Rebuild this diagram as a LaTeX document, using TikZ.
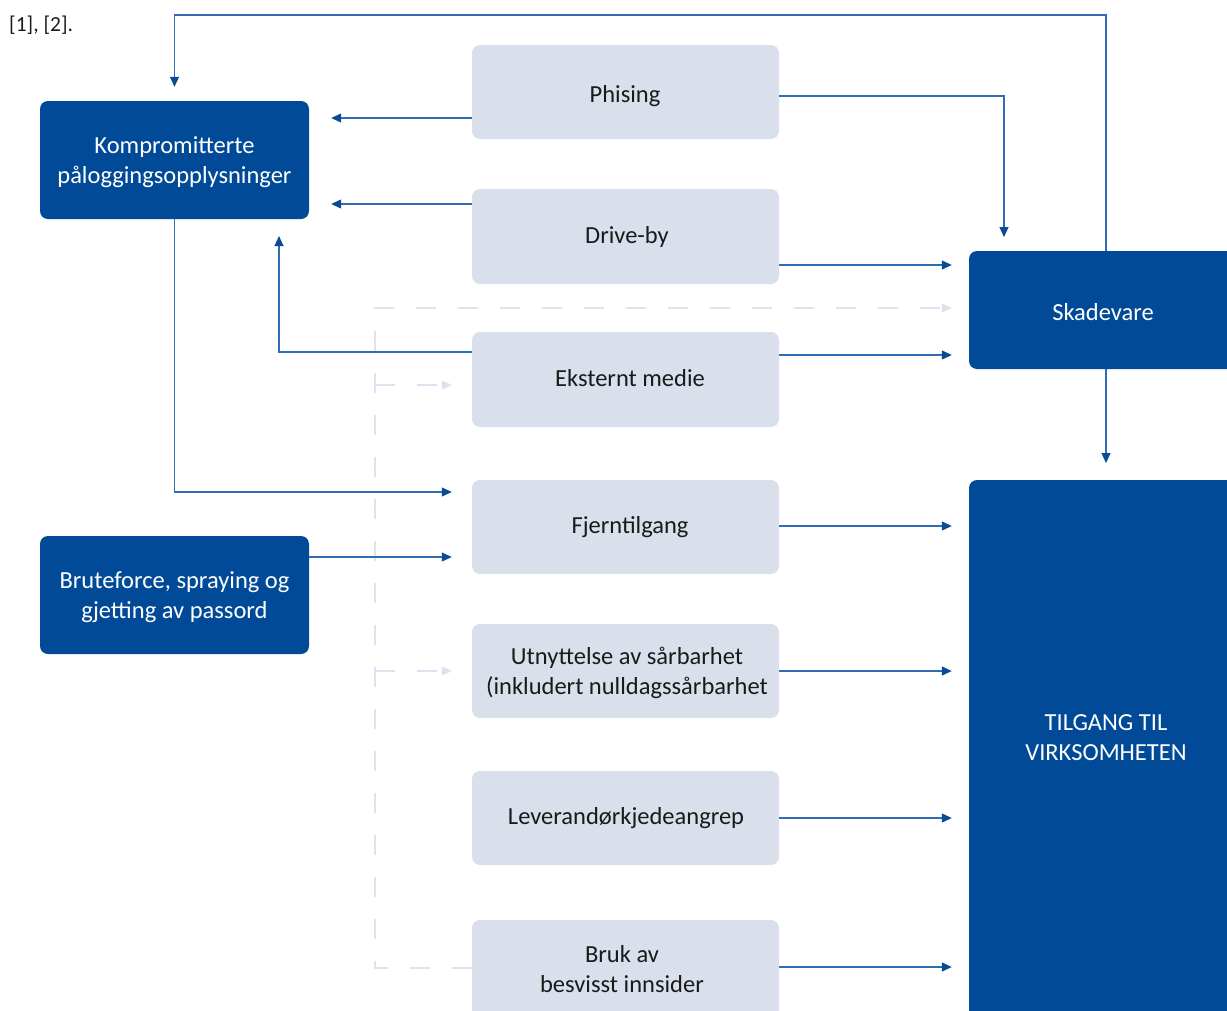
\documentclass[tikz,border=0pt]{standalone}
\usepackage{fontspec}
\setmainfont{Carlito}
\usetikzlibrary{arrows.meta}
\definecolor{darkbox}{HTML}{004A98}
\definecolor{lightbox}{HTML}{D9E0EC}
\definecolor{linec}{HTML}{2F6EB5}
\definecolor{tipc}{HTML}{0B4A94}
\definecolor{dashc}{HTML}{DCE2EE}
\definecolor{txt}{HTML}{1A1A1A}
\begin{document}
\begin{tikzpicture}[x=1pt,y=-1pt,
  dbox/.style={fill=darkbox, rounded corners=8pt, inner sep=0pt},
  lbox/.style={fill=lightbox, rounded corners=8pt, inner sep=0pt, minimum width=307pt},
  dtext/.style={text=white, align=center, inner sep=0pt, font=\fontsize{24.5}{30}\selectfont},
  ltext/.style={text=txt, align=center, inner sep=0pt, font=\fontsize{24.5}{30}\selectfont},
  conn/.style={draw=linec, line width=1.1pt, -{Triangle[length=10pt,width=9pt,color=tipc]}},
  dconn/.style={draw=dashc, line width=1.1pt, dash pattern=on 20pt off 22pt,
    -{Triangle[length=10pt,width=9pt,color=dashc]}},
]
\useasboundingbox (0,0) rectangle (1227,1010);
\clip (0,0) rectangle (1227,1010);

\node[anchor=west, text=txt, font=\fontsize{21.5}{26}\selectfont, inner sep=0pt] (ref) at (9,25) {[1], [2].};

% boxes
\node[dbox, minimum width=269pt, minimum height=118pt] (komp) at (174.5,160) {};
\node[dbox, minimum width=269pt, minimum height=118pt] (brute) at (174.5,595) {};
\node[lbox, minimum height=94pt] (phis) at (625.5,92) {};
\node[lbox, minimum height=95pt] (drive) at (625.5,236.5) {};
\node[lbox, minimum height=95pt] (ekst) at (625.5,379.5) {};
\node[lbox, minimum height=94pt] (fjern) at (625.5,527) {};
\node[lbox, minimum height=94pt] (utn) at (625.5,671) {};
\node[lbox, minimum height=94pt] (lev) at (625.5,818) {};
\node[lbox, minimum height=100pt] (bruk) at (625.5,970) {};
\node[dbox, minimum width=271pt, minimum height=118pt] (skade) at (1104.5,310) {};
\node[dbox, minimum width=271pt, minimum height=560pt] (tilg) at (1104.5,760) {};

% texts
\node[dtext] (kompt) at ([yshift=-2pt]komp.center) {Kompromitterte\\påloggingsopplysninger};
\node[dtext] (brutet) at ([yshift=-2.5pt]brute.center) {Bruteforce, spraying og\\gjetting av passord};
\node[ltext] (phist) at (625,96) {Phising};
\node[ltext] (drivet) at (627,237) {Drive-by};
\node[ltext] (ekstt) at (630,378) {Eksternt medie};
\node[ltext] (fjernt) at (630,527) {Fjerntilgang};
\node[ltext] (utnt) at (627,673) {Utnyttelse av sårbarhet\\(inkludert nulldagssårbarhet};
\node[ltext] (levt) at (626,818) {Leverandørkjedeangrep};
\node[ltext] (brukt) at (622,969) {Bruk av\\besvisst innsider};
\node[dtext] (skadet) at (1103,312) {Skadevare};
\node[dtext] (tilgt) at (1106,738) {TILGANG TIL\\VIRKSOMHETEN};

% dashed connectors
\draw[dconn] (bruk.west |- 0,968) -| (375,308) -- ([xshift=-17pt]skade.west |- 0,308);
\draw[dconn] (375,385) -- ([xshift=-20pt]ekst.west |- 0,385);
\draw[dconn] (375,671) -- ([xshift=-20pt]utn.west |- 0,671);

% solid connectors
\draw[conn] (skade.north -| 1106,0) -- (1106,15) -| ([yshift=14pt]komp.north);
\draw[conn] (phis.west |- 0,118) -- ([xshift=22pt]komp.east |- 0,118);
\draw[conn] (phis.east |- 0,96) -| (1004,237);
\draw[conn] (drive.west |- 0,204) -- ([xshift=22pt]komp.east |- 0,204);
\draw[conn] (drive.east |- 0,265) -- ([xshift=-17pt]skade.west |- 0,265);
\draw[conn] (ekst.west |- 0,352) -| (279,236);
\draw[conn] (ekst.east |- 0,355) -- ([xshift=-17pt]skade.west |- 0,355);
\draw[conn] (komp.south) |- ([xshift=-20pt]fjern.west |- 0,492);
\draw[conn] (brute.east |- 0,557) -- ([xshift=-20pt]fjern.west |- 0,557);
\draw[conn] (fjern.east |- 0,526) -- ([xshift=-17pt]tilg.west |- 0,526);
\draw[conn] (utn.east |- 0,671) -- ([xshift=-17pt]tilg.west |- 0,671);
\draw[conn] (lev.east |- 0,818) -- ([xshift=-17pt]tilg.west |- 0,818);
\draw[conn] (bruk.east |- 0,967) -- ([xshift=-17pt]tilg.west |- 0,967);
\draw[conn] (skade.south -| 1106,0) -- (1106,463);
\end{tikzpicture}
\end{document}
